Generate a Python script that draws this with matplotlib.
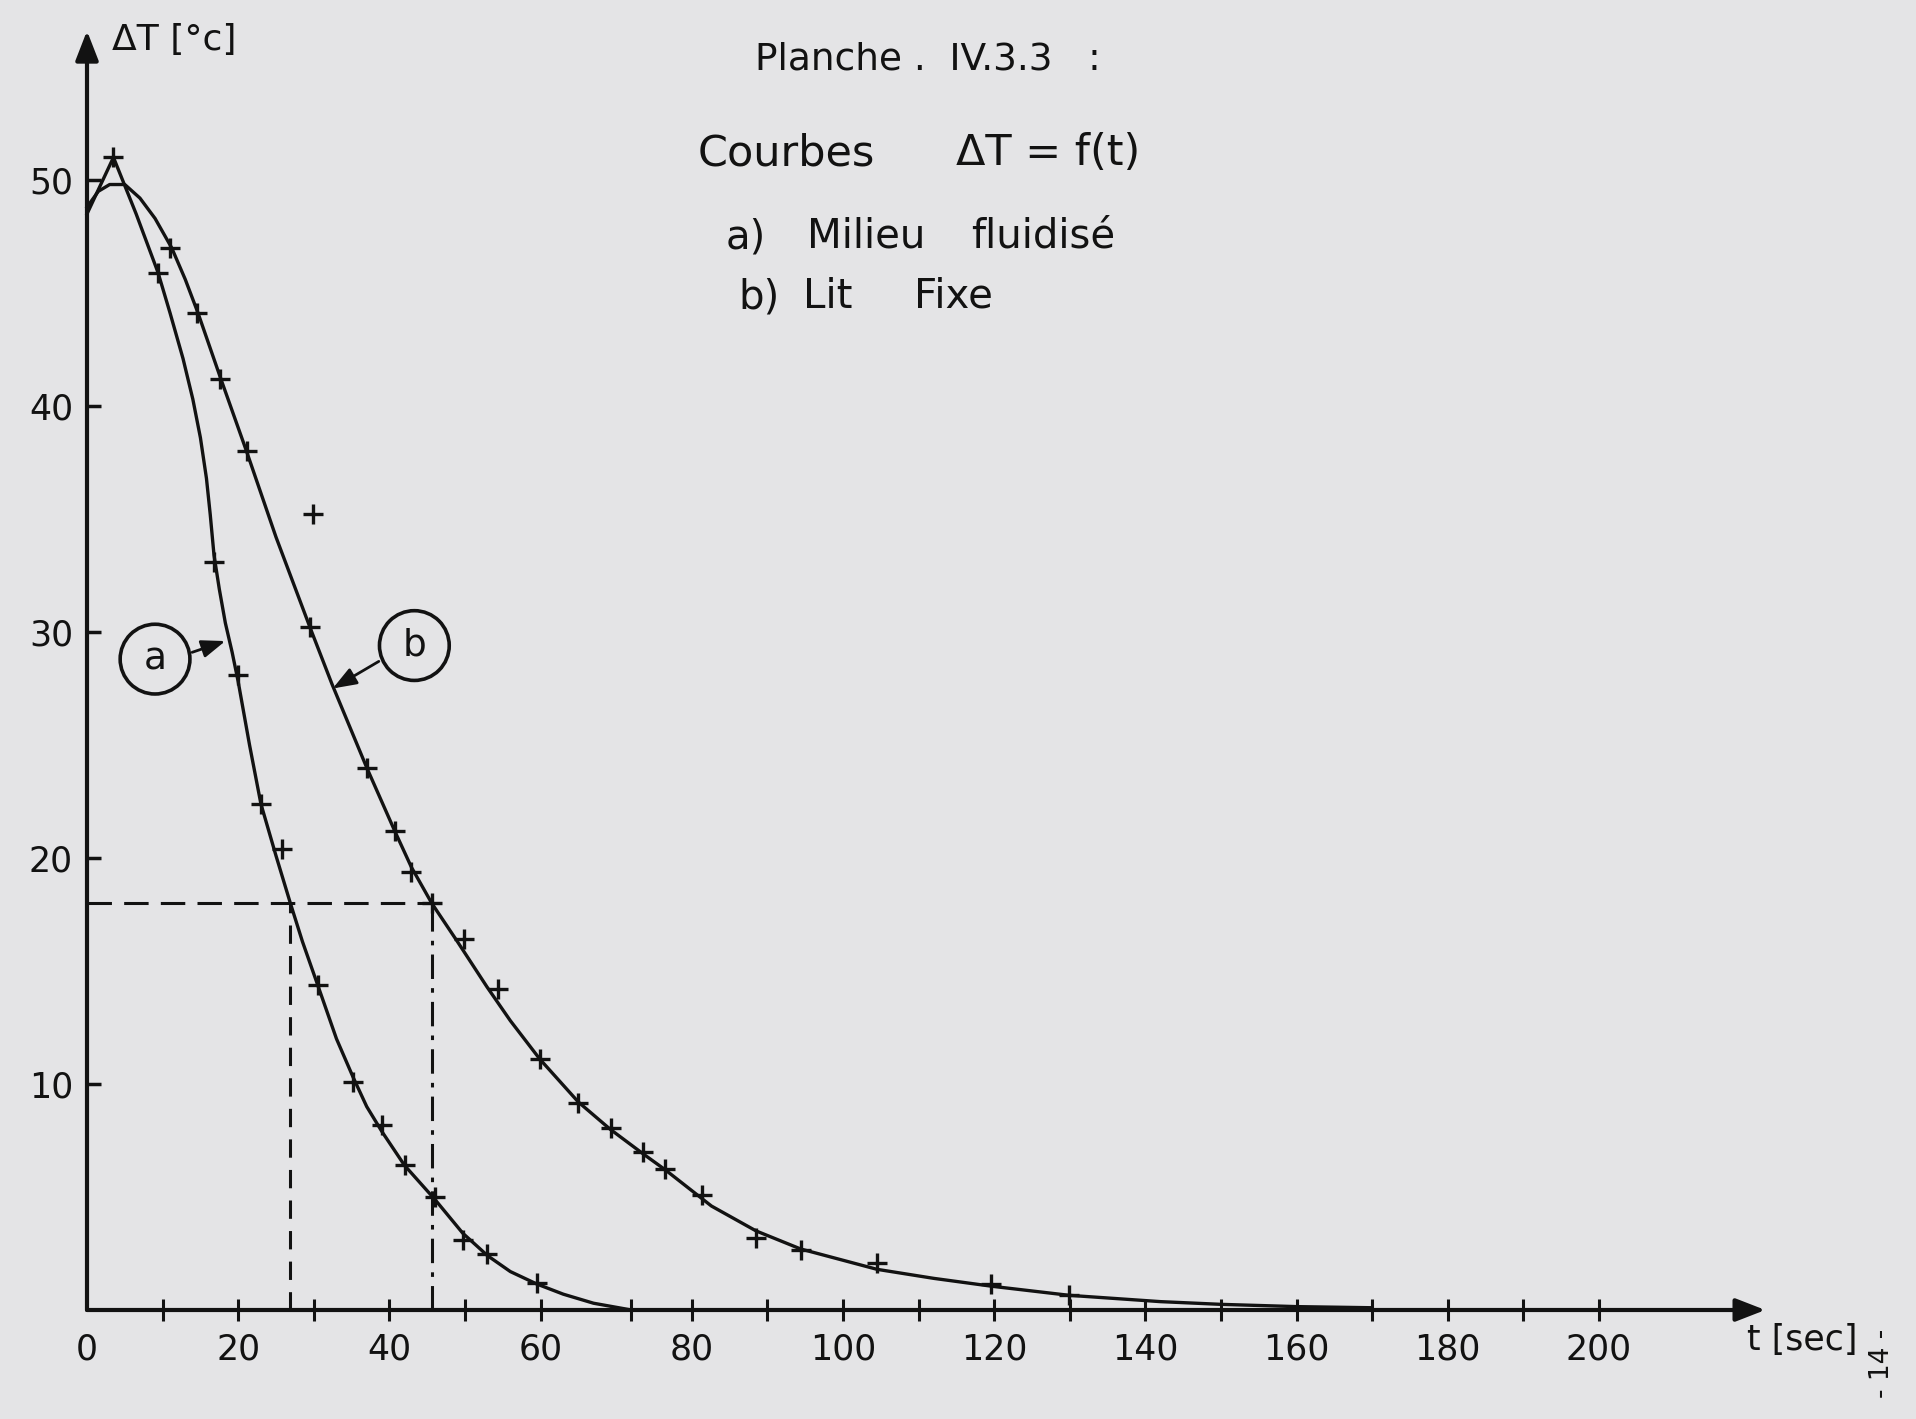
import matplotlib
matplotlib.use("Agg")
import matplotlib.pyplot as plt

# ---------------- data ----------------
# curve a) Milieu fluidisé : drawn line
a_line_t = [0, 3.5, 6.5, 9.4, 11.0, 12.7, 14.0, 15.0, 15.8, 16.3, 16.8, 17.5, 18.3, 19.2, 20.0,
            21.5, 23.0, 25.0, 26.9, 28.5, 30.6, 33.0, 35.2, 37.0, 39.0, 42.0, 46.0,
            49.7, 53.0, 56.0, 59.5, 63.0, 67.0, 72.0]
a_line_T = [48.5, 51.0, 48.5, 45.9, 44.1, 42.1, 40.3, 38.6, 36.8, 35.2, 33.4, 31.9, 30.4, 29.1, 27.8,
            25.0, 22.4, 20.1, 18.0, 16.3, 14.3, 12.0, 10.3, 9.0, 7.9, 6.4, 4.9,
            3.4, 2.4, 1.7, 1.15, 0.7, 0.3, 0.0]
# curve a) measured points
a_pts_t = [3.5, 9.4, 16.8, 20.0, 23.0, 25.8, 30.6, 35.2, 39.0, 42.0, 46.0, 49.7, 52.9, 59.5]
a_pts_T = [51.0, 45.9, 33.1, 28.1, 22.4, 20.4, 14.4, 10.1, 8.2, 6.4, 5.0, 3.1, 2.5, 1.2]

# curve b) Lit fixe : drawn line
b_line_t = [0, 1.5, 3.0, 5.0, 7.0, 9.0, 11.2, 13.0, 14.7, 17.6, 21.1, 25.0, 29.5, 32.4,
            37.0, 40.7, 42.9, 45.6, 49.0, 52.9, 56.0, 59.9, 65.0, 69.2, 73.6, 76.5,
            82.6, 88.5, 94.4, 104.5, 112.0, 119.7, 129.9, 142.0, 150.0, 160.0, 170.0]
b_line_T = [48.8, 49.5, 49.8, 49.8, 49.2, 48.3, 47.0, 45.6, 44.1, 41.3, 38.0, 34.2, 30.2, 27.7,
            24.0, 21.2, 19.6, 18.0, 16.3, 14.3, 12.8, 11.1, 9.2, 8.0, 6.9, 6.2,
            4.6, 3.5, 2.7, 1.8, 1.4, 1.05, 0.65, 0.37, 0.25, 0.15, 0.1]
# curve b) measured points
b_pts_t = [11.0, 14.5, 17.6, 21.1, 29.9, 29.5, 37.0, 40.7, 42.8, 45.6, 49.9, 54.4,
           59.9, 64.9, 69.3, 73.6, 76.5, 81.3, 88.5, 94.4, 104.5, 119.6, 129.9]
b_pts_T = [47.0, 44.1, 41.2, 38.0, 35.2, 30.2, 24.0, 21.2, 19.4, 18.0, 16.4, 14.2,
           11.1, 9.15, 8.05, 7.0, 6.25, 5.1, 3.2, 2.65, 2.1, 1.15, 0.66]

# construction lines at DeltaT = 18
dT_level = 18.0
t_a_level = 26.9
t_b_level = 45.6

x_major = [0, 20, 40, 60, 80, 100, 120, 140, 160, 180, 200]
x_minor = [10, 30, 50, 72, 90, 110, 130, 150, 170, 190]
y_major = [10, 20, 30, 40, 50]

# title words (hand-lettered, placed word by word)
title_words = [("Planche .  IV.3.3   :", 755, 60, 27),
               ("Courbes", 698, 153, 31), ("ΔT = f(t)", 956, 153, 31),
               ("a)", 726, 237, 29), ("Milieu", 807, 237, 29), ("fluidisé", 971, 237, 29),
               ("b)", 738, 297, 29), ("Lit", 803, 297, 29), ("Fixe", 914, 297, 29)]

# ---------------- figure ----------------
W, H = 1916, 1419
ink = "#121212"
paper = "#e4e4e6"
fig = plt.figure(figsize=(W / 100, H / 100), dpi=100, facecolor=paper)

x0, y0 = 87, 1310          # pixel position of origin
sx, sy = 7.56, 22.6        # pixels per unit
xmax, ymax = 222, 56.6
ax = fig.add_axes([x0 / W, (H - y0) / H, xmax * sx / W, ymax * sy / H])
ax.set_facecolor(paper)
ax.set_xlim(0, xmax)
ax.set_ylim(0, ymax)
for s in ax.spines.values():
    s.set_visible(False)

# axes with arrows
arrow_kw = dict(arrowstyle="-|>,head_length=0.9,head_width=0.35", lw=3, color=ink,
                shrinkA=0, shrinkB=0, mutation_scale=20)
ax.annotate("", xy=(xmax, 0), xytext=(0, 0), arrowprops=arrow_kw, annotation_clip=False)
ax.annotate("", xy=(0, ymax), xytext=(0, 0), arrowprops=arrow_kw, annotation_clip=False)

# ticks
ax.set_xticks(x_major)
ax.set_xticklabels([str(v) for v in x_major])
ax.set_xticks(x_minor, minor=True)
ax.set_yticks(y_major)
ax.set_yticklabels([str(v) for v in y_major])
ax.tick_params(axis="x", which="both", direction="inout", length=16, width=2.2,
               color=ink, labelsize=25, labelcolor=ink, pad=8)
ax.tick_params(axis="y", which="both", direction="in", length=10, width=2.5,
               color=ink, labelsize=25, labelcolor=ink, pad=10)
ax.xaxis.get_major_ticks()[0].tick1line.set_visible(False)

# curves
ax.plot(a_line_t, a_line_T, color=ink, lw=2.4, solid_joinstyle="round", clip_on=False)
ax.plot(b_line_t, b_line_T, color=ink, lw=2.4, solid_joinstyle="round", clip_on=False)
ax.plot(a_pts_t, a_pts_T, ls="none", marker="+", ms=14, mew=2.4, color=ink, clip_on=False)
ax.plot(b_pts_t, b_pts_T, ls="none", marker="+", ms=14, mew=2.4, color=ink, clip_on=False)

# construction lines
ax.plot([0, t_b_level + 1.7], [dT_level, dT_level], color=ink, lw=2.2, dashes=(8, 4))
ax.plot([t_a_level, t_a_level], [0, dT_level], color=ink, lw=2.2, dashes=(6, 4))
ax.plot([t_b_level, t_b_level], [0, dT_level], color=ink, lw=2.2, dashes=(8, 3, 1.5, 3))

# circled labels with arrows
circ = dict(boxstyle="circle,pad=0.45", fc="none", ec=ink, lw=2.6)
ax.text(9.0, 28.8, "a", fontsize=27, ha="center", va="center", color=ink, bbox=circ)
ax.text(43.3, 29.4, "b", fontsize=27, ha="center", va="center", color=ink, bbox=circ)
small_arrow = dict(arrowstyle="-|>,head_length=0.8,head_width=0.3", lw=2.0, color=ink,
                   shrinkA=0, shrinkB=0, mutation_scale=18)
ax.annotate("", xy=(18.3, 29.6), xytext=(13.9, 29.1), arrowprops=small_arrow)
ax.annotate("", xy=(32.5, 27.5), xytext=(38.6, 28.7), arrowprops=small_arrow)

# texts
def ftext(px, py, s, **kw):
    fig.text(px / W, 1 - py / H, s, color=ink, **kw)

ftext(112, 40, "ΔT [°c]", fontsize=26, ha="left", va="center")
ftext(1747, 1340, "t [sec]", fontsize=25, ha="left", va="center")
for word, px, py, fs in title_words:
    ftext(px, py, word, fontsize=fs, ha="left", va="center")
ftext(1882, 1363, "- 14 -", fontsize=19, ha="center", va="center", rotation=90)

fig.savefig("out.png", dpi=100, facecolor=paper)
